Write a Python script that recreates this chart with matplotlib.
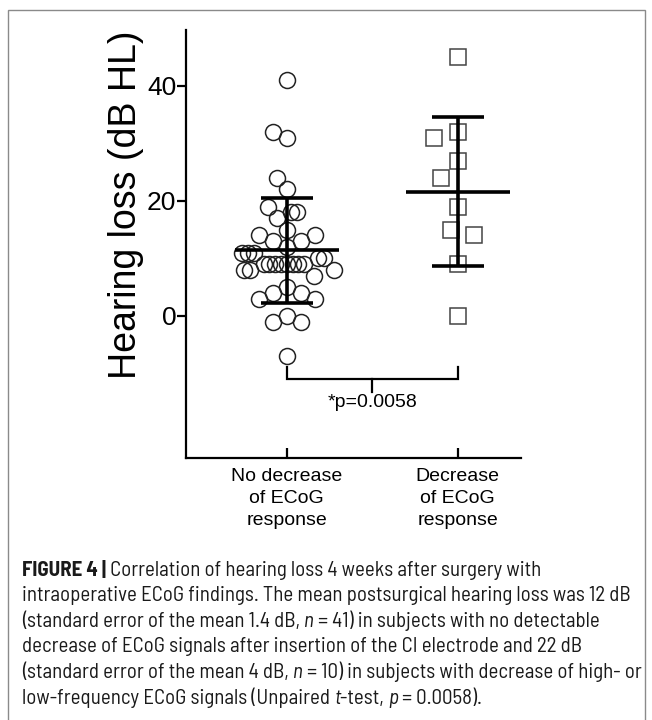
import numpy as np
import matplotlib
matplotlib.use("Agg")
import matplotlib.pyplot as plt
from matplotlib import font_manager
from matplotlib.font_manager import FontProperties
from matplotlib.patches import Rectangle

# ---------------- data ----------------
categories = ["No decrease\nof ECoG\nresponse", "Decrease\nof ECoG\nresponse"]
no_decrease = [41, 32, 31, 24, 22, 19, 18, 18, 17, 15, 14, 14, 13, 13, 12,
               11, 11, 11, 10, 10, 9, 9, 9, 9, 9, 9, 9, 9, 8, 8, 8, 7, 5,
               4, 4, 3, 3, 0, -1, -1, -7]
decrease = [45, 32, 31, 27, 24, 19, 15, 14, 9, 0]
yticks = [0, 20, 40]
ylabel = "Hearing loss (dB HL)"
p_label = "*p=0.0058"
# caption: list of lines, each a list of (text, style) segments
caption = [
    [("FIGURE 4 |", "b"), (" Correlation of hearing loss 4 weeks after surgery with", "r")],
    [("intraoperative ECoG findings. The mean postsurgical hearing loss was 12 dB", "r")],
    [("(standard error of the mean 1.4 dB, ", "r"), ("n", "i"), (" = 41) in subjects with no detectable", "r")],
    [("decrease of ECoG signals after insertion of the CI electrode and 22 dB", "r")],
    [("(standard error of the mean 4 dB, ", "r"), ("n", "i"), (" = 10) in subjects with decrease of high- or", "r")],
    [("low-frequency ECoG signals (Unpaired ", "r"), ("t", "i"), ("-test, ", "r"), ("p", "i"), (" = 0.0058).", "r")],
]

# ---------------- fonts ----------------
avail = {f.name for f in font_manager.fontManager.ttflist}
main_font = "Liberation Sans" if "Liberation Sans" in avail else "DejaVu Sans"
plt.rcParams["font.family"] = [main_font, "DejaVu Sans"]


def _wnum(w):
    if isinstance(w, (int, float)):
        return w
    return {"light": 300, "normal": 400, "regular": 400, "book": 400,
            "medium": 500, "semibold": 600, "bold": 700}.get(str(w).lower(), 400)


def _stretch(s):
    if isinstance(s, (int, float)):
        return s
    return {"ultra-condensed": 100, "extra-condensed": 200, "condensed": 300,
            "semi-condensed": 400, "normal": 500, "semi-expanded": 600}.get(str(s).lower(), 500)


def find_caption_font(style):
    want_w = 700 if style == "b" else 400
    want_i = style == "i"
    best = None
    for f in font_manager.fontManager.ttflist:
        nm = f.name
        fn = f.fname.replace("-", "").replace("_", "").lower()
        st = _stretch(f.stretch)
        if "extra" in fn.replace("extrabold", "") or "ultra" in fn:
            continue
        score = None
        if nm == "Liberation Sans Narrow":
            score = 0
        elif nm in ("Noto Sans", "Roboto", "Open Sans", "Noto Sans SemiCondensed",
                    "Open Sans SemiCondensed", "Roboto SemiCondensed") and \
                (st == 400 or "semicondensed" in fn):
            score = 1
        elif "semicondensed" in fn:
            score = 2
        if score is None:
            continue
        if (f.style in ("italic", "oblique")) != want_i:
            continue
        if abs(_wnum(f.weight) - want_w) > 50:
            continue
        if best is None or score < best[0]:
            best = (score, f.fname)
    if best is None:
        return FontProperties(family=main_font,
                              weight="bold" if style == "b" else "normal",
                              style="italic" if want_i else "normal")
    return FontProperties(fname=best[1])


cap_props = {s: find_caption_font(s) for s in ("r", "b", "i")}

W, H = 652, 720
fig = plt.figure(figsize=(W / 100, H / 100), dpi=100)


def fx(px):
    return px / W


def fy(py):
    return 1 - py / H


# frame border
fig.patches.append(Rectangle((fx(7.5), fy(740)), fx(645) - fx(7.5), fy(10) - fy(740),
                             transform=fig.transFigure, fill=False,
                             edgecolor="#8a8a8a", lw=1.0))

ax = fig.add_axes([fx(186), fy(458), fx(521) - fx(186), fy(30) - fy(458)])
ax.set_xlim(0.41, 2.37)
ax.set_ylim(-24.7, 49.7)


# ---------------- swarm layout (computed) ----------------
def swarm_offsets(vals, xc, diam, same_gap, center_value=None):
    vals = np.asarray(vals, float)
    pts = ax.transData.transform(np.column_stack([np.full(len(vals), xc), vals]))
    ypix = pts[:, 1]
    xpu = ax.transData.transform([(1, 0)])[0, 0] - ax.transData.transform([(0, 0)])[0, 0]
    if center_value is None:
        order = np.argsort(-vals, kind="stable")
    else:
        order = sorted(range(len(vals)), key=lambda i: (abs(vals[i] - center_value), -vals[i]))
    placed = []
    out = np.zeros(len(vals))
    for i in order:
        y = ypix[i]
        cands = [0.0]
        for (px, py, pv) in placed:
            d = same_gap if pv == vals[i] else diam
            dy = abs(py - y)
            if dy < d:
                dx = np.sqrt(d * d - dy * dy)
                cands += [px + dx, px - dx]
        cands.sort(key=lambda c: (abs(c), c))
        for c in cands:
            ok = True
            for (px, py, pv) in placed:
                d = same_gap if pv == vals[i] else diam
                if (px - c) ** 2 + (py - y) ** 2 < d * d - 1e-6:
                    ok = False
                    break
            if ok:
                out[i] = c
                placed.append((c, y, vals[i]))
                break
    return xc + out / xpu


vals1 = np.asarray(no_decrease)
uv, cnt = np.unique(vals1, return_counts=True)
mode1 = uv[np.argmax(cnt)]
x1 = swarm_offsets(no_decrease, 1, 15.0, 5.8, center_value=mode1)
x2 = swarm_offsets(decrease, 2, 24.0, 6.0)

ax.plot(x1, no_decrease, ls="none", marker="o", ms=11.5, mfc="none",
        mec="#222222", mew=1.1, zorder=3)
ax.plot(x2, decrease, ls="none", marker="s", ms=12, mfc="none",
        mec="#444444", mew=1.1, zorder=3)

# mean +/- SD
for xc, vals in [(1, no_decrease), (2, decrease)]:
    m = np.mean(vals)
    s = np.std(vals, ddof=1)
    ax.hlines(m, xc - 0.305, xc + 0.305, color="black", lw=2.6, zorder=4)
    ax.hlines([m - s, m + s], xc - 0.153, xc + 0.153, color="black", lw=2.6, zorder=4)
    ax.vlines(xc, m - s, m + s, color="black", lw=2.6, zorder=4)

# significance bracket
ax.plot([1, 1, 2, 2], [-8.8, -11, -11, -8.8], color="black", lw=1.6,
        solid_joinstyle="miter", clip_on=False)
ax.plot([1.5, 1.5], [-11, -13.2], color="black", lw=1.6, clip_on=False)
ax.text(1.5, -15.0, p_label, ha="center", va="center", fontsize=14)

# axes styling
for side in ["top", "right"]:
    ax.spines[side].set_visible(False)
for side in ["left", "bottom"]:
    ax.spines[side].set_linewidth(1.6)
ax.set_yticks(yticks)
ax.set_yticklabels([str(t) for t in yticks])
ax.tick_params(axis="y", direction="out", length=6.5, width=1.6, labelsize=19, pad=0.5)
ax.set_xticks([1, 2])
ax.set_xticklabels(categories)
ax.tick_params(axis="x", direction="in", length=7, width=1.6, labelsize=14, pad=7)
for lab in ax.get_xticklabels():
    lab.set_linespacing(1.4)

fig.text(fx(126), fy(205), ylabel, rotation=90, ha="center", va="center", fontsize=27)

# ---------------- caption ----------------
renderer = fig.canvas.get_renderer()


def line_width(segs, size):
    tot = 0.0
    for txt, st in segs:
        p = cap_props[st].copy()
        p.set_size(size)
        t = fig.text(0, 0, txt, fontproperties=p)
        tot += t.get_window_extent(renderer).width
        t.remove()
    return tot


cap_size = 13.0
cap_size = cap_size * (640 - 22) / line_width(caption[4], cap_size)

base0 = 575.5
step = 25.6
for k, segs in enumerate(caption):
    x = 22.0
    for txt, st in segs:
        p = cap_props[st].copy()
        p.set_size(cap_size)
        t = fig.text(fx(x), fy(base0 + k * step), txt, fontproperties=p,
                     va="baseline", ha="left", color="#1a1a1a")
        x += t.get_window_extent(renderer).width

fig.savefig("out.png", dpi=100)
